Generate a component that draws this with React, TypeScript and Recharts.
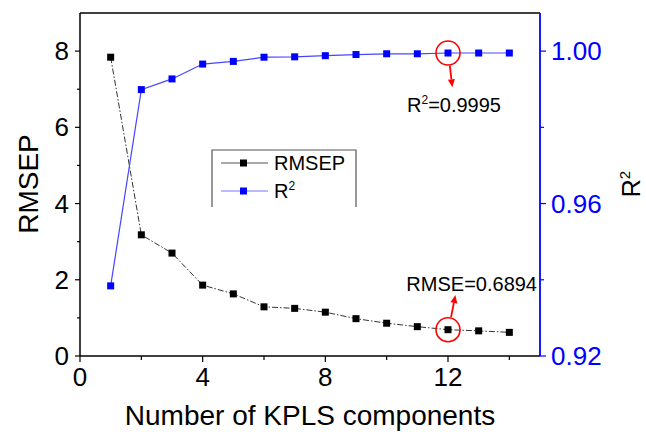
import React from "react";
import {
  ComposedChart,
  Line,
  XAxis,
  YAxis,
  ReferenceLine,
  ReferenceDot,
} from "recharts";

// -------------------------
// DATA
// -------------------------
const components = [1, 2, 3, 4, 5, 6, 7, 8, 9, 10, 11, 12, 13, 14];
const rmsep = [7.84, 3.18, 2.7, 1.86, 1.63, 1.29, 1.25, 1.15, 0.98, 0.86, 0.77, 0.69, 0.66, 0.62];
const r2 = [0.9384, 0.9899, 0.9927, 0.9966, 0.9973, 0.9984, 0.9985, 0.9988, 0.9991, 0.9993, 0.9993, 0.9995, 0.9995, 0.9995];

const xTicks = [0, 2, 4, 6, 8, 10, 12, 14];
const leftTicks = [0, 1, 2, 3, 4, 5, 6, 7, 8];
const rightTicks = [0.92, 0.94, 0.96, 0.98, 1.0];

const bestIdx = 11; // component 12

const chartData = components.map((c, i) => ({
  n: c,
  rmsep: rmsep[i],
  r2: r2[i],
}));

const FONT = "'Liberation Sans', Arial, sans-serif";
const BLUE = "#0000ff";

const XTick = (props: any) => {
  const { x, y, payload } = props;
  const major = payload.value % 4 === 0;
  return (
    <g>
      <line x1={x} y1={y} x2={x} y2={y + (major ? 6 : 4)} stroke="#000" strokeWidth={1.2} />
      {major && (
        <text x={x} y={y + 30} textAnchor="middle" fontSize={26} fontFamily={FONT} fill="#000">
          {payload.value}
        </text>
      )}
    </g>
  );
};

const LeftTick = (props: any) => {
  const { x, y, payload } = props;
  const major = payload.value % 2 === 0;
  return (
    <g>
      <line x1={x} y1={y} x2={x - (major ? 5 : 3)} y2={y} stroke="#000" strokeWidth={1.2} />
      {major && (
        <text x={x - 11} y={y + 9} textAnchor="end" fontSize={26} fontFamily={FONT} fill="#000">
          {payload.value}
        </text>
      )}
    </g>
  );
};

const RightTick = (props: any) => {
  const { x, y, payload } = props;
  const major = Math.round(payload.value * 100) % 4 === 0;
  return (
    <g>
      <line x1={x} y1={y} x2={x + (major ? 6 : 4)} y2={y} stroke={BLUE} strokeWidth={1.2} />
      {major && (
        <text x={x + 11} y={y + 9} textAnchor="start" fontSize={26} fontFamily={FONT} fill={BLUE}>
          {payload.value.toFixed(2)}
        </text>
      )}
    </g>
  );
};

const square = (fill: string) => (p: any) => (
  <rect key={`${fill}-${p.index}`} x={p.cx - 3.5} y={p.cy - 3.5} width={7} height={7} fill={fill} />
);

const Arrow = (props: any) => {
  const { x1, y1, x2, y2 } = props;
  const ang = Math.atan2(y2 - y1, x2 - x1);
  const L = 8;
  const W = 3.5;
  const bx = x2 - L * Math.cos(ang);
  const by = y2 - L * Math.sin(ang);
  const px = -Math.sin(ang) * W;
  const py = Math.cos(ang) * W;
  return (
    <g>
      <line x1={x1} y1={y1} x2={bx} y2={by} stroke="#ff0000" strokeWidth={1.8} />
      <polygon points={`${x2},${y2} ${bx + px},${by + py} ${bx - px},${by - py}`} fill="#ff0000" />
    </g>
  );
};

export default function App() {
  return (
    <div style={{ position: "absolute", left: 0, top: 0, width: 646, height: 432, background: "#fff" }}>
      <ComposedChart
        width={646}
        height={432}
        data={chartData}
        margin={{ top: 13, right: 0, bottom: 0, left: 0 }}
      >
        <XAxis
          dataKey="n"
          type="number"
          domain={[0, 15]}
          ticks={xTicks}
          interval={0}
          tickSize={0}
          tickMargin={0}
          tick={<XTick />}
          height={76}
          axisLine={{ stroke: "#000", strokeWidth: 1.5 }}
          allowDataOverflow
        />
        <YAxis
          yAxisId="left"
          domain={[0, 9]}
          ticks={leftTicks}
          interval={0}
          tickSize={0}
          tickMargin={0}
          tick={<LeftTick />}
          width={80}
          axisLine={{ stroke: "#000", strokeWidth: 1.5 }}
          allowDataOverflow
        />
        <YAxis
          yAxisId="right"
          orientation="right"
          domain={[0.92, 1.01]}
          ticks={rightTicks}
          interval={0}
          tickSize={0}
          tickMargin={0}
          tick={<RightTick />}
          width={106}
          axisLine={{ stroke: BLUE, strokeWidth: 1.8 }}
          allowDataOverflow
        />
        <ReferenceLine yAxisId="left" y={9} stroke="#000" strokeWidth={1.5} />

        <Line
          yAxisId="left"
          dataKey="rmsep"
          stroke="#333"
          strokeWidth={1}
          strokeDasharray="6 2 1.5 2"
          dot={square("#000")}
          isAnimationActive={false}
        />
        <Line
          yAxisId="right"
          dataKey="r2"
          stroke="#4646ff"
          strokeWidth={1.2}
          dot={square(BLUE)}
          isAnimationActive={false}
        />

        {/* highlight best component */}
        <ReferenceDot
          yAxisId="right"
          x={components[bestIdx]}
          y={r2[bestIdx]}
          r={12}
          fill="none"
          stroke="#ff0000"
          strokeWidth={1.6}
        />
        <ReferenceDot
          yAxisId="left"
          x={components[bestIdx]}
          y={rmsep[bestIdx]}
          r={12}
          fill="none"
          stroke="#ff0000"
          strokeWidth={1.6}
        />
        <ReferenceLine
          yAxisId="left"
          segment={[{ x: 12.06, y: 7.62 }, { x: 12.14, y: 7.05 }]}
          shape={<Arrow />}
        />
        <ReferenceLine
          yAxisId="left"
          segment={[{ x: 12.1, y: 1.02 }, { x: 12.24, y: 1.6 }]}
          shape={<Arrow />}
        />
      </ComposedChart>

      {/* titles, legend and annotation text */}
      <svg
        width={646}
        height={432}
        style={{ position: "absolute", left: 0, top: 0, pointerEvents: "none" }}
        fontFamily={FONT}
      >
        <text x={310} y={425} textAnchor="middle" fontSize={28} fill="#000">
          Number of KPLS components
        </text>
        <text transform="translate(38,184) rotate(-90)" textAnchor="middle" fontSize={28} fill="#000">
          RMSEP
        </text>
        <text transform="translate(640,184) rotate(-90)" textAnchor="middle" fontSize={25} fill="#000">
          R<tspan dy={-10} fontSize={15}>2</tspan>
        </text>

        {/* legend */}
        <path d="M212,207 L212,150 L356,150 L356,207" fill="none" stroke="#555" strokeWidth={1.2} />
        <line x1={221} y1={163} x2={268} y2={163} stroke="#555" strokeWidth={1} />
        <rect x={240} y={159.5} width={7} height={7} fill="#000" />
        <text x={274} y={170} fontSize={20} fill="#000">RMSEP</text>
        <line x1={221} y1={191} x2={268} y2={191} stroke="#7777ff" strokeWidth={1.2} />
        <rect x={240} y={187.5} width={7} height={7} fill={BLUE} />
        <text x={274} y={198} fontSize={20} fill="#000">
          R<tspan dy={-8} fontSize={12}>2</tspan>
        </text>

        {/* annotations */}
        <text x={407} y={112} fontSize={20} fill="#000">
          R<tspan dy={-8} fontSize={12}>2</tspan>
          <tspan dy={8}>=0.9995</tspan>
        </text>
        <text x={537} y={291} textAnchor="end" fontSize={20} fill="#000">
          RMSE=0.6894
        </text>
      </svg>
    </div>
  );
}
